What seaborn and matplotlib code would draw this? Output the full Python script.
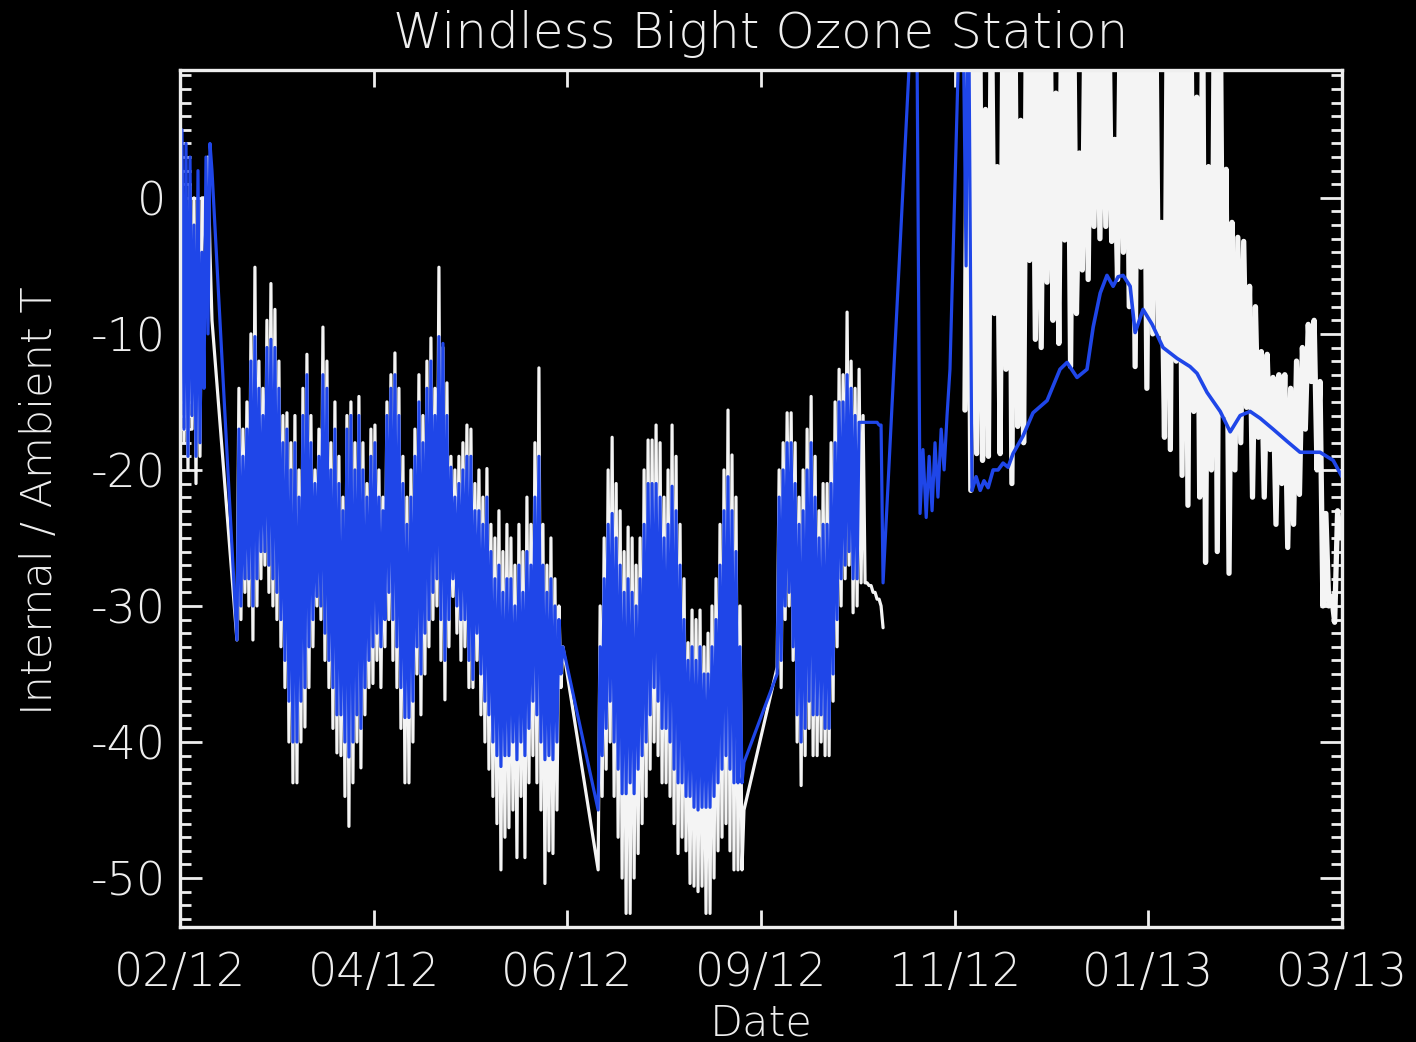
import numpy as np
import matplotlib
matplotlib.use("Agg")
import matplotlib.pyplot as plt
import seaborn as sns
from matplotlib.ticker import MultipleLocator

# ---------------- data (days since start, temperatures in deg C) ----------------
tick_days = [0, 66, 132, 198, 264, 330, 396]
tick_labels = ["02/12", "04/12", "06/12", "09/12", "11/12", "01/13", "03/13"]

# evenly sampled segments: (first day, last day)
days_A = (0.0, 10.9)
days_B = (19.4, 130.5)
days_C = (142.5, 192.2)
days_D = (203.5, 239.6)
days_E = (267.5, 395.5)

# ---- Ambient (white) temperature ----
white_A = [-15, 2, -18, -3, -20, 1, -17, 0, -21, 0, -19, 0, 0, -6, 3, -4, -9]
# daily lows / highs (each day drawn low -> high)
white_B_lo = [-32.5, -31, -29, -30, -32.5, -30, -28, -27, -29, -30,
              -31, -33, -36, -40, -43, -43, -40, -38.9, -36, -33,
              -30, -31, -34, -36, -39, -40.8, -41, -44, -46.2, -43,
              -40, -41.9, -38, -36, -35.7, -34, -36, -33, -31, -34,
              -36, -39, -43, -43, -40, -35, -38, -35, -33, -31,
              -30, -34, -36.9, -33, -29.3, -32, -34, -33, -36, -36,
              -34, -38, -40, -42, -44, -46, -49.4, -47, -46.3, -45,
              -48.5, -44, -48.5, -43, -41, -43, -45, -50.4, -48, -48.2,
              -45, -36]
white_B_hi = [-14, -17, -15, -10, -5.1, -12, -14, -9, -6.3, -8.2,
              -12, -16, -15.8, -18, -16, -20, -14, -11.5, -16, -20,
              -17, -9.5, -12, -18, -15, -19, -22, -16, -15, -18,
              -14.6, -18, -21, -17, -16.7, -20, -22, -15, -13, -11.4,
              -14, -19, -22, -20, -17, -13, -16, -12, -10.3, -14,
              -5.1, -11, -13.6, -19, -20, -19, -18, -16.7, -17, -21,
              -20, -22, -19.9, -24, -25, -23, -26, -24, -25, -27,
              -24, -26, -22, -24, -18, -12.5, -24, -27, -25, -28,
              -30, -33]
white_C_lo = [-49.4, -44, -42, -40, -44, -47, -50, -52.6, -52.6, -50,
              -48.2, -46, -44, -42, -40, -41, -43, -43, -44, -46,
              -48.2, -47, -48, -50.4, -50.6, -51, -50.6, -52.6, -52.6, -50,
              -48, -47, -46, -48, -49.4, -49.4, -49.4]
white_C_hi = [-30, -25, -20, -17.6, -21, -23, -26, -24.2, -25, -27,
              -25, -20, -17.8, -17.8, -16.7, -18, -22, -20, -16.7, -19,
              -24, -28, -32.7, -30.3, -31, -30.3, -33, -32, -30, -28,
              -24, -20, -15.6, -18.9, -22, -30, -45]
white_D_lo = [-34.5, -36, -31, -30, -34, -40, -43.2, -41, -39, -41,
              -41, -40, -41, -41, -37, -33, -30, -28, -27, -30.5,
              -30, -28.3, -28.3, -28.5, -29, -29.5, -30]
white_D_hi = [-20, -18, -15.8, -15.8, -18, -22, -20, -17, -14.6, -19,
              -23, -21, -21, -18, -15, -12.6, -13, -8.4, -12, -14,
              -12.6, -16, -28.3, -28.5, -29, -29.5, -31.6]
white_E = [-15.6, 15, -21.5, 15, -18.8, 15, -19.3, 6.5, -19, 15, -8.5, 2.3, -18.8, 15,
           -12.6, 15, -21, 15, -16.8, 5.7, -18, 15, -4.6, 15, -10.4, 15, -11, 15, -6.2,
           15, -9, 7.7, -10.7, 15, -3.1, 15, -12.4, 15, -8.5, 3.3, -5.3, 15, -6, 15,
           -2.1, 15, -3, 15, -2.1, 15, -3.2, 4.3, -6, 15, -4, 15, -8, 15, -12.4, 15,
           -5.1, 15, -14, 15, -10, 15, -10, -1.8, -17.6, 15, -18.5, 15, -12, 15, -20.4,
           15, -22.6, 15, -15.7, 7.4, -22, 15, -26.8, 2.3, -20, 15, -26, 15, -16, 2.1,
           -27.6, -1.8, -20, -2.9, -18, -3.2, -15.4, -6.5, -22, -8, -17.6, -11.3, -22,
           -11.5, -18.5, -13.2, -24, -13, -21, -13, -25.7, -14, -24, -12, -21.8, -11, -17,
           -9.3, -13.5, -9, -20, -13.5, -30, -23.2, -30, -29.3, -31.2, -23, -25]

# ---- Internal (blue) temperature ----
blue_A = [-12, 5, -17, 4, -19, 3, -16, -2, -19, 2, -18, -4, -14, 3, -10, 4, 2]
blue_B_lo = [-32.5, -30, -28, -28, -30, -28, -26, -26, -27, -28,
             -29, -31, -34, -37, -40, -40, -37, -36, -33, -31,
             -29.3, -30, -32, -34, -36, -38, -38, -40, -41.1, -40,
             -38, -39, -36, -34, -33, -32, -33, -31, -29, -31,
             -33, -36, -38.2, -38.2, -37, -33, -35, -32, -31, -29,
             -28, -31, -34, -31, -28, -30, -31, -31, -34, -35.4,
             -32, -35, -37, -38, -40, -41, -41.8, -41, -41, -40,
             -41.3, -40, -41, -39, -37, -38, -40, -41.3, -41, -41.3,
             -40, -35]
blue_B_hi = [-17, -19, -17, -12, -10.2, -14, -16, -11, -10.4, -11,
             -14, -18, -17, -20, -18, -22, -16, -13, -18, -21,
             -19, -13, -14, -20, -17, -21, -23, -17, -16, -20,
             -16, -20, -22, -19, -18, -22, -23, -16, -14, -13,
             -16, -21, -24, -22, -19, -15, -18, -14, -12, -16,
             -10.2, -10.7, -16, -19.8, -22, -21, -20, -19, -19, -23,
             -23, -24, -22, -26, -28, -27, -29, -28, -28, -30,
             -27, -29, -26, -27, -22, -19, -27, -29, -28, -30,
             -31, -33]
blue_C_lo = [-45, -41, -39, -37, -40, -42, -43.8, -43.8, -43, -43.8,
             -42, -41, -40, -38, -36, -37, -39, -39, -40, -42,
             -43, -43, -44, -44, -44.8, -45, -44.8, -44.8, -44.8, -44,
             -43, -42, -41, -42, -43, -43, -43]
blue_C_hi = [-33, -28, -24, -23.2, -25, -27, -29, -28, -29, -30,
             -28, -24, -21, -21, -21, -22, -25, -24, -21.2, -23,
             -27, -31, -34, -33, -34, -33, -35, -35, -33, -31,
             -27, -23, -20.5, -23, -26, -33, -41.5]
blue_D_lo = [-35, -34, -30, -29, -33, -38, -40, -39, -37, -38,
             -38, -38, -39, -39, -35, -31, -28, -27, -26, -28,
             -28, -16.5, -16.5, -16.5, -16.5, -16.5, -16.7]
blue_D_hi = [-22, -20, -18, -18, -21, -24, -23, -20, -18, -22,
             -25, -24, -24, -21, -18, -15, -15, -13, -14, -16,
             -16.5, -16.5, -16.5, -16.5, -16.5, -16.7, -28.3]
blue_jump_days = [250.9, 252.2, 253.2, 254.3, 255.3, 256.3, 257.3, 258.3, 259.4, 260.4,
                  261.4, 262.4, 266.5, 267.9, 268.6, 269.9]
blue_jump_vals = [20, -23.2, -18.5, -23.5, -19, -23, -18, -22, -17, -20, -16, -12.6,
                  20, -5, 20, -21.5]
blue_late_days = [271.3, 272.7, 274.0, 275.4, 277.1, 278.8, 280.5, 282.2, 283.9, 287.3,
                  290.7, 295.5, 299.9, 302.3, 305.7, 309.1, 311.2, 313.6, 315.9, 318.0,
                  319.7, 321.4, 323.8, 325.5, 328.2, 331.3, 335.0, 339.8, 344.2, 346.6,
                  350.0, 354.5, 357.9, 361.3, 364.7, 368.1, 372.5, 377.3, 381.7, 388.5,
                  393.0, 396.0]
blue_late_vals = [-20.5, -21.5, -20.8, -21.3, -20, -20, -19.5, -19.8, -18.8, -17.5, -15.8,
                  -14.9, -12.6, -12.1, -13.2, -12.6, -9.5, -7, -5.7, -6.5, -5.8, -5.7,
                  -6.5, -9.9, -8.2, -9.3, -11, -11.8, -12.4, -12.9, -14.3, -15.7, -17.2,
                  -16, -15.7, -16.2, -17, -17.9, -18.7, -18.7, -19.3, -20.5]


def daily(lo, hi):
    """order each day's readings low then high"""
    return [v for pair in zip(lo, hi) for v in pair]


def seg_days(span, vals):
    return np.linspace(span[0], span[1], len(vals))


wB, wC, wD = daily(white_B_lo, white_B_hi), daily(white_C_lo, white_C_hi), daily(white_D_lo, white_D_hi)
bB, bC, bD = daily(blue_B_lo, blue_B_hi), daily(blue_C_lo, blue_C_hi), daily(blue_D_lo, blue_D_hi)

white1_x = np.concatenate([seg_days(days_A, white_A), seg_days(days_B, wB),
                           seg_days(days_C, wC), seg_days(days_D, wD)])
white1_y = np.concatenate([white_A, wB, wC, wD])
white2_x = seg_days(days_E, white_E)
white2_y = np.array(white_E, dtype=float)
blue1_x = np.concatenate([seg_days(days_A, blue_A), seg_days(days_B, bB),
                          seg_days(days_C, bC), seg_days(days_D, bD), blue_jump_days])
blue1_y = np.concatenate([blue_A, bB, bC, bD, blue_jump_vals])
blue2_x = np.concatenate([blue_jump_days[-1:], blue_late_days])
blue2_y = np.concatenate([blue_jump_vals[-1:], blue_late_vals])

# ---------------- style ----------------
sns.set_theme(style="ticks", rc={
    "figure.facecolor": "black", "axes.facecolor": "black",
    "savefig.facecolor": "black", "axes.edgecolor": "#eeeeee",
    "text.color": "#eeeeee", "axes.labelcolor": "#eeeeee",
    "xtick.color": "#eeeeee", "ytick.color": "#eeeeee",
})
plt.rcParams["font.family"] = ["DejaVu Sans"]
plt.rcParams["axes.unicode_minus"] = False

WHITE = "#f4f4f4"
BLUE = "#1f46e8"

fig = plt.figure(figsize=(14.16, 10.42), dpi=100)
ax = fig.add_axes([180 / 1416, 1 - 927 / 1042, (1342 - 180) / 1416, (927 - 70) / 1042])

sns.lineplot(x=white1_x, y=white1_y, ax=ax, color=WHITE, lw=2.3, estimator=None, sort=False)
sns.lineplot(x=white2_x, y=white2_y, ax=ax, color=WHITE, lw=3.8, estimator=None, sort=False)
sns.lineplot(x=blue1_x, y=blue1_y, ax=ax, color=BLUE, lw=2.3, estimator=None, sort=False)
sns.lineplot(x=blue2_x, y=blue2_y, ax=ax, color=BLUE, lw=2.6, estimator=None, sort=False)

ax.set_xlim(0, 396)
ax.set_ylim(-53.6, 9.4)

for s in ax.spines.values():
    s.set_visible(True)
    s.set_color("#eeeeee")
    s.set_linewidth(2.4)

ax.set_xticks(tick_days)
ax.set_xticklabels(tick_labels)
ax.set_yticks([0, -10, -20, -30, -40, -50])
ax.yaxis.set_minor_locator(MultipleLocator(1))

ax.tick_params(axis="x", which="major", direction="in", length=12, width=2,
               top=True, bottom=True, labelsize=33, pad=17)
ax.tick_params(axis="y", which="major", direction="in", length=16, width=2,
               left=True, right=True, labelsize=33, pad=10)
ax.tick_params(axis="y", which="minor", direction="in", length=8, width=2,
               left=True, right=True)
for lab in ax.get_xticklabels() + ax.get_yticklabels():
    lab.set_fontweight("light")

ax.set_title("Windless Bight Ozone Station", fontsize=36, fontweight="light",
             color="#eeeeee", pad=16)
ax.set_xlabel("Date", fontsize=31, fontweight="light")
ax.set_ylabel("Internal / Ambient T", fontsize=31, fontweight="light")
ax.xaxis.set_label_coords(0.5, -0.088)
ax.yaxis.set_label_coords(-0.103, 0.498)

fig.savefig("out.png", dpi=100, facecolor="black")
